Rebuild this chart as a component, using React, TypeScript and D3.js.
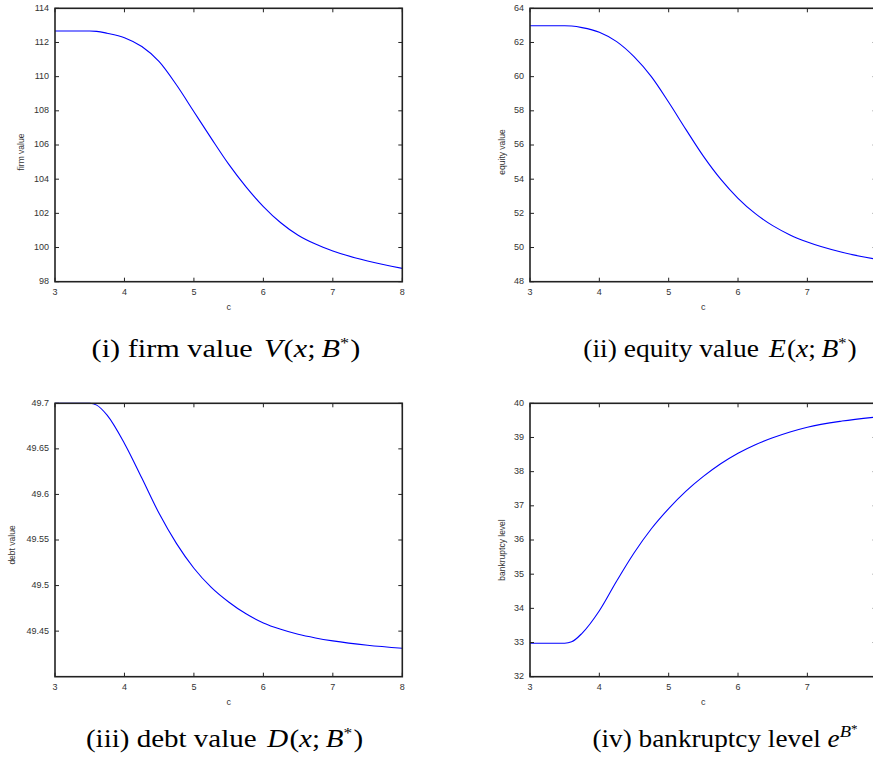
import React from 'react';
import * as d3 from 'd3';

// coupon rate c on the x axis
const cValues = [3, 3.5, 3.6, 3.75, 4, 4.25, 4.5, 4.75, 5, 5.25, 5.5, 5.75, 6, 6.25, 6.5, 6.75, 7, 7.5, 8];

const firmValue = [112.67, 112.67, 112.65, 112.54, 112.28, 111.76, 110.88, 109.51, 107.95, 106.39, 104.88, 103.55, 102.4, 101.45, 100.72, 100.2, 99.8, 99.21, 98.78];
const equityValue = [62.98, 62.98, 62.96, 62.87, 62.6, 62.05, 61.17, 60.0, 58.5, 56.9, 55.35, 54.0, 52.88, 51.98, 51.28, 50.74, 50.32, 49.72, 49.31];
const debtValue = [49.7, 49.7, 49.698, 49.687, 49.656, 49.618, 49.579, 49.546, 49.519, 49.498, 49.482, 49.469, 49.459, 49.452, 49.4465, 49.4425, 49.4393, 49.4345, 49.4312];
const bankruptcyLevel = [32.98, 32.98, 33.02, 33.27, 33.93, 34.8, 35.62, 36.33, 36.92, 37.43, 37.86, 38.23, 38.54, 38.79, 38.99, 39.16, 39.3, 39.48, 39.6];

const xTicks = [3, 4, 5, 6, 7, 8];
const firmTicks = [98, 100, 102, 104, 106, 108, 110, 112, 114];
const equityTicks = [48, 50, 52, 54, 56, 58, 60, 62, 64];
const debtTicks = [49.45, 49.5, 49.55, 49.6, 49.65, 49.7];
const bankTicks = [32, 33, 34, 35, 36, 37, 38, 39, 40];

type PanelProps = {
  left: number;
  right: number;
  top: number;
  bottom: number;
  values: number[];
  yDomain: [number, number];
  yTicks: number[];
  yLabel: string;
  yLabelX: number;
  yLabelY: number;
};

const tickFont = 'Liberation Sans, Arial, sans-serif';

const Panel = ({ left, right, top, bottom, values, yDomain, yTicks, yLabel, yLabelX, yLabelY }: PanelProps) => {
  const x = d3.scaleLinear().domain([3, 8]).range([left, right]);
  const y = d3.scaleLinear().domain(yDomain).range([bottom, top]);
  const line = d3.line<number>()
    .x((_, i) => x(cValues[i]))
    .y(d => y(d))
    .curve(d3.curveMonotoneX);
  const tl = 4;
  const fmt = (v: number) => String(+v.toFixed(2));

  return (
    <g>
      <path d={line(values) ?? ''} fill="none" stroke="#0000ff" strokeWidth={1.1} />
      {xTicks.map(t => (
        <g key={'x' + t}>
          <line x1={x(t)} x2={x(t)} y1={bottom} y2={bottom - tl} stroke="#222" strokeWidth={1} />
          <line x1={x(t)} x2={x(t)} y1={top} y2={top + tl} stroke="#222" strokeWidth={1} />
          {x(t) < 868 && (
            <text x={x(t)} y={bottom + 10.5} fontSize={9} textAnchor="middle" dominantBaseline="middle"
              fontFamily={tickFont} fill="#333">{t}</text>
          )}
        </g>
      ))}
      {yTicks.map(t => (
        <g key={'y' + t}>
          <line x1={left} x2={left + tl} y1={y(t)} y2={y(t)} stroke="#222" strokeWidth={1} />
          <line x1={right} x2={right - tl} y1={y(t)} y2={y(t)} stroke="#222" strokeWidth={1} />
          <text x={left - 6} y={y(t)} fontSize={9} textAnchor="end" dominantBaseline="middle"
            fontFamily={tickFont} fill="#333">{fmt(t)}</text>
        </g>
      ))}
      <rect x={left} y={top} width={right - left} height={bottom - top} fill="none" stroke="#222" strokeWidth={1.6} />
      <text x={(left + right) / 2} y={bottom + 26} fontSize={9} textAnchor="middle" dominantBaseline="middle"
        fontFamily={tickFont} fill="#333">c</text>
      <text transform={`translate(${yLabelX},${yLabelY}) rotate(-90)`} fontSize={8.5} textAnchor="middle"
        dominantBaseline="middle" fontFamily={tickFont} fill="#333">{yLabel}</text>
    </g>
  );
};

const serif = 'Liberation Serif, Times New Roman, serif';

type CaptionProps = { cx: number; y: number; sx: number; label: string; letter: string };

// caption of the form "(i) firm value V(x; B*)"
const Caption = ({ cx, y, sx, label, letter }: CaptionProps) => (
  <text transform={`translate(${cx},${y}) scale(${sx},1)`} fontSize={25} textAnchor="middle" fontFamily={serif} fill="#000">
    {label}
    <tspan dx={3} fontStyle="italic">{letter}</tspan>
    <tspan dx={1}>(</tspan>
    <tspan fontStyle="italic">x</tspan>
    <tspan>;</tspan>
    <tspan dx={5} fontStyle="italic">B</tspan>
    <tspan fontSize={15} dy={-9}>*</tspan>
    <tspan dx={1} dy={9}>)</tspan>
  </text>
);

const App = () => {
  return (
    <div style={{ position: 'absolute', left: 0, top: 0 }}>
      <svg width={873} height={770} style={{ display: 'block', background: '#fff' }}>
        <Panel left={55} right={402.3} top={8.3} bottom={281.7} values={firmValue} yDomain={[98, 114]}
          yTicks={firmTicks} yLabel="firm value" yLabelX={22} yLabelY={152} />
        <Panel left={530} right={876.7} top={8.3} bottom={281.7} values={equityValue} yDomain={[48, 64]}
          yTicks={equityTicks} yLabel="equity value" yLabelX={503} yLabelY={152} />
        <Panel left={55} right={402.3} top={403.3} bottom={676.7} values={debtValue} yDomain={[49.4, 49.7]}
          yTicks={debtTicks} yLabel="debt value" yLabelX={13} yLabelY={545} />
        <Panel left={530} right={876.7} top={403.3} bottom={676.7} values={bankruptcyLevel} yDomain={[32, 40]}
          yTicks={bankTicks} yLabel="bankruptcy level" yLabelX={503} yLabelY={550} />

        <Caption cx={226} y={357} sx={1.21} label="(i) firm value " letter="V" />
        <Caption cx={720} y={357} sx={1.1} label="(ii) equity value " letter="E" />
        <Caption cx={224.5} y={747} sx={1.16} label="(iii) debt value " letter="D" />
        <text transform={`translate(725,747) scale(1.09,1)`} fontSize={25} textAnchor="middle" fontFamily={serif} fill="#000">
          (iv) bankruptcy level <tspan fontStyle="italic">e</tspan>
          <tspan fontStyle="italic" fontSize={17} dy={-10}>B</tspan>
          <tspan fontSize={12} dy={-4}>*</tspan>
        </text>
      </svg>
    </div>
  );
};

export default App;
